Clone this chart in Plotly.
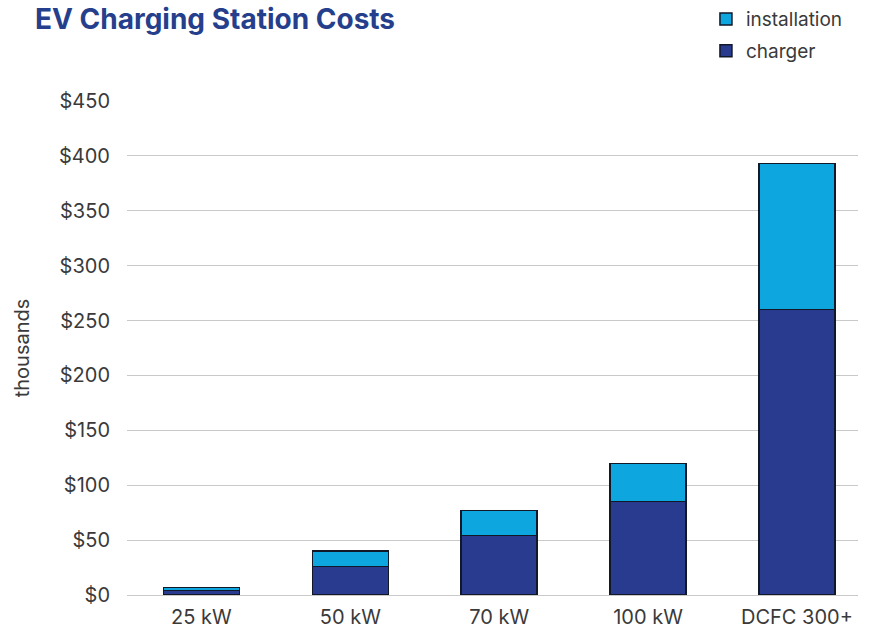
import plotly.graph_objects as go

DARK_BLUE = "#283B8E"
LIGHT_BLUE = "#0DA6DE"
GRID = "#C9C9C9"
TEXT = "#3A3A3A"

categories = ["25 kW", "50 kW", "70 kW", "100 kW", "DCFC 300+"]
charger = [4, 26, 54, 85, 260]
installation = [3, 14, 23, 35, 133]
y_ticks = [0, 50, 100, 150, 200, 250, 300, 350, 400, 450]

fig = go.Figure()
fig.add_trace(
    go.Bar(
        x=categories,
        y=charger,
        name="charger",
        legendgroup="charger",
        legendrank=2,
        marker=dict(color=DARK_BLUE, line=dict(color="#111827", width=1.5)),
    )
)
fig.add_trace(
    go.Bar(
        x=categories,
        y=installation,
        name="installation",
        legendgroup="installation",
        legendrank=1,
        marker=dict(color=LIGHT_BLUE, line=dict(color="#111827", width=1.5)),
    )
)

fig.update_layout(
    barmode="stack",
    bargap=0.49,
    width=875,
    height=630,
    plot_bgcolor="white",
    paper_bgcolor="white",
    font=dict(family="Inter, Roboto, sans-serif", size=20, color=TEXT),
    margin=dict(l=127, r=17, t=101, b=35, autoexpand=False),
    showlegend=True,
    legend=dict(
        x=0.792,
        y=1.204,
        xanchor="left",
        yanchor="top",
        traceorder="grouped",
        tracegroupgap=4,
        font=dict(size=19, color=TEXT),
        itemwidth=30,
        bgcolor="rgba(0,0,0,0)",
    ),
    annotations=[
        dict(
            text="<b>EV Charging Station Costs</b>",
            xref="paper",
            yref="paper",
            x=-0.128,
            y=1.204,
            xanchor="left",
            yanchor="top",
            showarrow=False,
            font=dict(size=28, color="#263F8C"),
        )
    ],
)

fig.update_xaxes(
    range=[-0.5, 4.41],
    showgrid=False,
    showline=False,
    ticks="",
    ticklabelstandoff=8,
    tickfont=dict(size=20, color=TEXT),
)
fig.update_yaxes(
    range=[0, 450],
    tickvals=y_ticks,
    ticktext=[f"${v}" for v in y_ticks],
    showgrid=True,
    gridcolor=GRID,
    gridwidth=1,
    zeroline=True,
    zerolinecolor=GRID,
    zerolinewidth=1,
    ticks="",
    ticklabelstandoff=16,
    tickfont=dict(size=20, color=TEXT),
    title=dict(text="thousands", font=dict(size=20, color=TEXT), standoff=24),
)

# page body has a default 8px margin; drop it so the figure sits at (0, 0)
fig.write_html(
    "out.html",
    config={"displayModeBar": False},
    post_script="document.body.style.margin='0';",
)
